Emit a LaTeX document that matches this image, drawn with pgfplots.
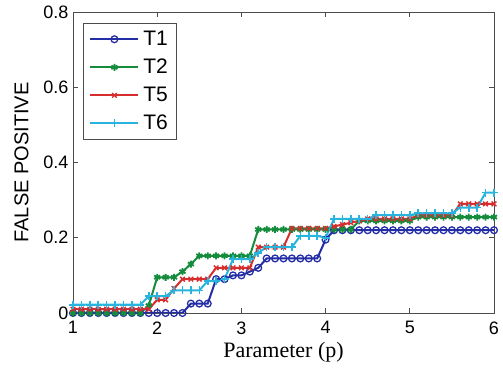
\documentclass[border=0pt]{standalone}
\usepackage{fontspec}
\setmainfont{Liberation Sans}
\newfontfamily\serifx{Liberation Serif}
\usepackage{pgfplots}
\pgfplotsset{compat=1.18}
\definecolor{cT1}{RGB}{35,45,165}
\definecolor{cT2}{RGB}{20,140,60}
\definecolor{cT5}{RGB}{215,45,45}
\definecolor{cT6}{RGB}{40,180,220}
\begin{document}
\begin{tikzpicture}
\path[use as bounding box] (-73bp,-57bp) rectangle (430bp,313bp);
\begin{axis}[
  scale only axis, width=421bp, height=301bp,
  xmin=1, xmax=6, ymin=0, ymax=0.8,
  xtick={1,2,3,4,5,6}, ytick={0,0.2,0.4,0.6,0.8},
  yticklabels={0,0.2,0.4,0.6,0.8},
  tick align=inside, major tick length=5bp,
  axis line style={gray!60!black, line width=0.8pt},
  tick style={gray!60!black, line width=0.8pt},
  /pgf/number format/assume math mode=true,
  ticklabel style={font=\fontsize{18bp}{20bp}\selectfont},
  xticklabel style={yshift=-5bp},
  yticklabel style={xshift=-1bp},
  xlabel={\serifx\fontsize{22bp}{24bp}\selectfont Parameter (p)},
  ylabel={\fontsize{20bp}{22bp}\selectfont FALSE POSITIVE},
  xlabel style={at={(axis description cs:0.5,0)}, anchor=north, yshift=-26bp},
  ylabel style={at={(axis description cs:0,0.5)}, anchor=south, yshift=41bp},
  legend style={at={(axis cs:1.119,0.771)}, anchor=north west, draw=gray!60!black, line width=0.8pt,
    font=\fontsize{21bp}{24bp}\selectfont, row sep=8bp, inner xsep=6bp, inner ysep=6bp,
    /tikz/every odd column/.append style={column sep=2bp}},
  legend cell align=left,
  legend image code/.code={\draw[mark repeat=2,mark phase=2,line width=2bp,#1] plot coordinates {(0bp,0bp) (24bp,0bp) (48bp,0bp)};},
  every axis plot/.append style={line width=2bp},
]
\addplot[cT1, mark=o, mark size=3.4bp, mark options={line width=1.3pt}] coordinates {
(1.0,0)(1.1,0)(1.2,0)(1.3,0)(1.4,0)(1.5,0)(1.6,0)(1.7,0)(1.8,0)(1.9,0)(2.0,0)(2.1,0)(2.2,0)(2.3,0)
(2.4,0.025)(2.5,0.025)(2.6,0.025)
(2.7,0.09)(2.8,0.09)(2.9,0.10)(3.0,0.10)(3.1,0.11)(3.2,0.12)
(3.3,0.145)(3.4,0.145)(3.5,0.145)(3.6,0.145)(3.7,0.145)(3.8,0.145)(3.9,0.145)
(4.0,0.195)
(4.1,0.22)(4.2,0.22)(4.3,0.22)(4.4,0.22)(4.5,0.22)(4.6,0.22)(4.7,0.22)(4.8,0.22)(4.9,0.22)(5.0,0.22)
(5.1,0.22)(5.2,0.22)(5.3,0.22)(5.4,0.22)(5.5,0.22)(5.6,0.22)(5.7,0.22)(5.8,0.22)(5.9,0.22)(6.0,0.22)
};
\addlegendentry{T1}
\addplot[cT2, mark=asterisk, mark size=3.5bp, mark options={line width=1.8pt}] coordinates {
(1.0,0)(1.1,0)(1.2,0)(1.3,0)(1.4,0)(1.5,0)(1.6,0)(1.7,0)(1.8,0)
(1.9,0.02)
(2.0,0.095)(2.1,0.095)(2.2,0.095)
(2.3,0.11)(2.4,0.13)
(2.5,0.152)(2.6,0.152)(2.7,0.152)(2.8,0.152)(2.9,0.152)(3.0,0.152)(3.1,0.152)
(3.2,0.222)(3.3,0.222)(3.4,0.222)(3.5,0.222)(3.6,0.222)(3.7,0.222)(3.8,0.222)(3.9,0.222)(4.0,0.222)(4.1,0.222)(4.2,0.222)(4.3,0.222)
(4.4,0.245)(4.5,0.245)(4.6,0.245)(4.7,0.245)(4.8,0.245)(4.9,0.245)(5.0,0.245)
(5.1,0.255)(5.2,0.255)(5.3,0.255)(5.4,0.255)(5.5,0.255)(5.6,0.255)(5.7,0.255)(5.8,0.255)(5.9,0.255)(6.0,0.255)
};
\addlegendentry{T2}
\addplot[cT5, mark=x, mark size=3.3bp, mark options={line width=1.4pt}] coordinates {
(1.0,0.01)(1.1,0.01)(1.2,0.01)(1.3,0.01)(1.4,0.01)(1.5,0.01)(1.6,0.01)(1.7,0.01)(1.8,0.01)(1.9,0.01)
(2.0,0.035)(2.1,0.035)
(2.2,0.065)
(2.3,0.09)(2.4,0.09)(2.5,0.09)(2.6,0.09)
(2.7,0.12)(2.8,0.12)(2.9,0.12)(3.0,0.12)(3.1,0.12)
(3.2,0.175)(3.3,0.175)(3.4,0.175)(3.5,0.175)
(3.6,0.225)(3.7,0.225)(3.8,0.225)(3.9,0.225)(4.0,0.225)
(4.1,0.23)(4.2,0.235)(4.3,0.24)(4.4,0.245)
(4.5,0.25)(4.6,0.25)(4.7,0.25)(4.8,0.25)(4.9,0.25)(5.0,0.25)
(5.1,0.26)(5.2,0.26)(5.3,0.26)(5.4,0.26)(5.5,0.26)
(5.6,0.29)(5.7,0.29)(5.8,0.29)(5.9,0.29)(6.0,0.29)
};
\addlegendentry{T5}
\addplot[cT6, mark=+, mark size=4bp, mark options={line width=1.6pt}] coordinates {
(1.0,0.022)(1.1,0.022)(1.2,0.022)(1.3,0.022)(1.4,0.022)(1.5,0.022)(1.6,0.022)(1.7,0.022)(1.8,0.022)
(1.9,0.045)(2.0,0.045)(2.1,0.045)
(2.2,0.06)(2.3,0.06)(2.4,0.06)(2.5,0.06)
(2.6,0.085)(2.7,0.085)(2.8,0.09)
(2.9,0.143)(3.0,0.143)(3.1,0.143)
(3.2,0.16)
(3.3,0.175)(3.4,0.175)(3.5,0.175)(3.6,0.175)
(3.7,0.205)(3.8,0.205)(3.9,0.205)
(4.0,0.2)
(4.1,0.25)(4.2,0.25)(4.3,0.25)(4.4,0.25)(4.5,0.25)
(4.6,0.26)(4.7,0.26)(4.8,0.26)(4.9,0.26)(5.0,0.26)
(5.1,0.265)(5.2,0.265)(5.3,0.265)(5.4,0.265)(5.5,0.265)
(5.6,0.28)(5.7,0.28)(5.8,0.28)
(5.9,0.32)(6.0,0.32)
};
\addlegendentry{T6}
\end{axis}
\end{tikzpicture}
\end{document}
